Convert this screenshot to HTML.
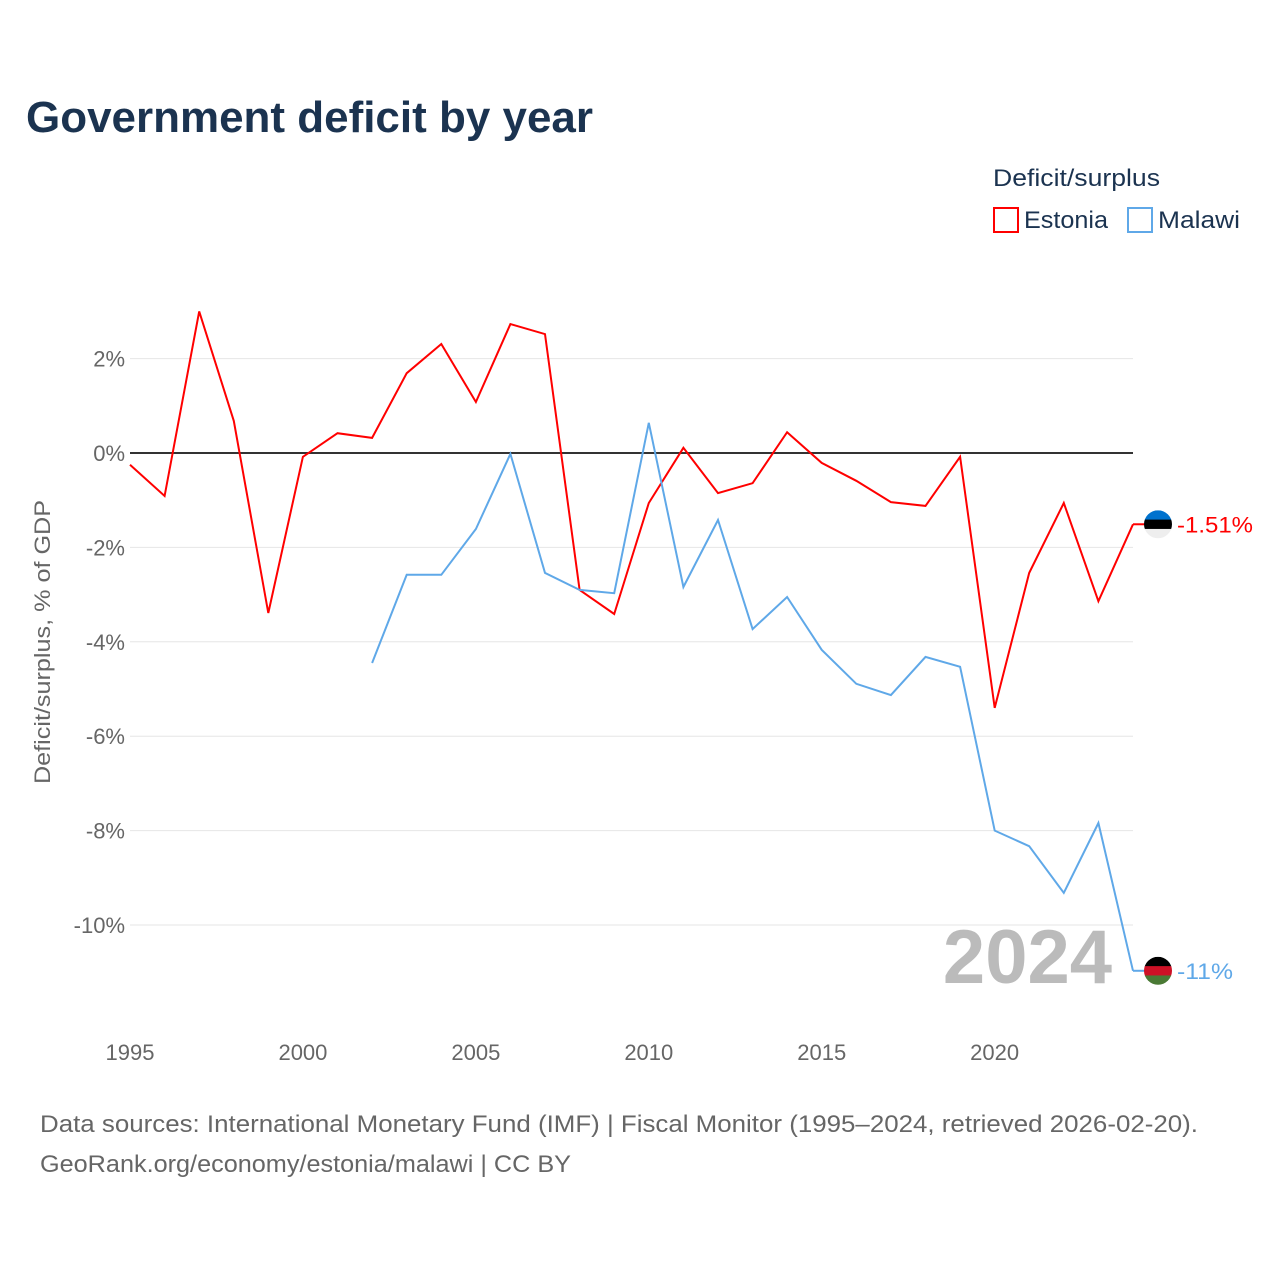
<!DOCTYPE html>
<html><head><meta charset="utf-8"><style>
body{margin:0;background:#fff;font-family:"Liberation Sans",sans-serif;}
#wrap{position:relative;width:1280px;height:1280px;overflow:hidden;}
</style></head><body>
<div id="wrap">
<svg id="chart" width="1280" height="1280">
<text x="26" y="132" font-size="44" font-weight="bold" fill="#1b3350" textLength="567" lengthAdjust="spacingAndGlyphs">Government deficit by year</text>
<text x="993" y="186" font-size="24" fill="#1b3350" textLength="167" lengthAdjust="spacingAndGlyphs">Deficit/surplus</text>
<g><rect x="994" y="208" width="24" height="24" fill="none" stroke="#ff0000" stroke-width="2"/><text x="1024" y="228" font-size="24" fill="#1b3350" textLength="84" lengthAdjust="spacingAndGlyphs">Estonia</text></g>
<g><rect x="1128" y="208" width="24" height="24" fill="none" stroke="#5fa8e8" stroke-width="2"/><text x="1158" y="228" font-size="24" fill="#1b3350" textLength="82" lengthAdjust="spacingAndGlyphs">Malawi</text></g>
<text transform="translate(50,642) rotate(-90)" text-anchor="middle" font-size="22" fill="#666" textLength="284" lengthAdjust="spacingAndGlyphs">Deficit/surplus, % of GDP</text>
<g id="grid"></g><g id="series"></g>
<text x="1112" y="983" text-anchor="end" font-size="76" font-weight="bold" fill="#bbb">2024</text>
<text x="40" y="1132" font-size="24" fill="#666" textLength="1158" lengthAdjust="spacingAndGlyphs">Data sources: International Monetary Fund (IMF) | Fiscal Monitor (1995–2024, retrieved 2026-02-20).</text>
<text x="40" y="1172" font-size="24" fill="#666" textLength="531" lengthAdjust="spacingAndGlyphs">GeoRank.org/economy/estonia/malawi | CC BY</text>
</svg>
</div>
<script>
const years=[1995,1996,1997,1998,1999,2000,2001,2002,2003,2004,2005,2006,2007,2008,2009,2010,2011,2012,2013,2014,2015,2016,2017,2018,2019,2020,2021,2022,2023,2024];
const estonia=[-0.25,-0.91,3.0,0.68,-3.39,-0.08,0.42,0.32,1.69,2.31,1.08,2.73,2.52,-2.9,-3.41,-1.06,0.11,-0.85,-0.64,0.44,-0.21,-0.59,-1.04,-1.12,-0.08,-5.4,-2.54,-1.06,-3.14,-1.51];
const malawi=[null,null,null,null,null,null,null,-4.45,-2.58,-2.58,-1.61,-0.02,-2.54,-2.9,-2.97,0.64,-2.84,-1.42,-3.73,-3.05,-4.17,-4.89,-5.13,-4.32,-4.53,-8.0,-8.33,-9.32,-7.84,-10.97];
const yTicks=[2,0,-2,-4,-6,-8,-10];
const xTicks=[1995,2000,2005,2010,2015,2020];
const NS="http://www.w3.org/2000/svg";
const xS=y=>130+(y-1995)*(1133-130)/29;
const yS=v=>453-v*47.2;
const grid=document.getElementById('grid'),series=document.getElementById('series');
function mk(t,a,p){const e=document.createElementNS(NS,t);for(const k in a)e.setAttribute(k,a[k]);p.appendChild(e);return e;}
yTicks.forEach(v=>{
 const l=mk('line',{x1:130,x2:1133,y1:yS(v),y2:yS(v),stroke:v===0?'#333':'#e6e6e6','stroke-width':v===0?2:1},grid);
 
 
 const t=mk('text',{x:125,y:yS(v)+8,'text-anchor':'end','font-size':22,fill:'#666'},grid);t.textContent=v+'%';
 
 
});
xTicks.forEach(y=>{
 const t=mk('text',{x:xS(y),y:1060,'text-anchor':'middle','font-size':22,fill:'#666'},grid);t.textContent=y;
 
 
});
function line(vals,color,name){
 let d='';vals.forEach((v,i)=>{if(v===null)return;d+=(d?'L':'M')+xS(years[i]).toFixed(1)+','+yS(v).toFixed(1);});
 const p=mk('path',{d:d,fill:'none',stroke:color,'stroke-width':2},series);
 
 
}
line(estonia,'#ff0000','estonia-line');
line(malawi,'#5fa8e8','malawi-line');
function endLabel(vals,color,name,txt,flag,tl){
 const v=vals[vals.length-1],x=xS(years[years.length-1]),y=yS(v);
 mk('line',{x1:x,x2:x+12,y1:y,y2:y,stroke:color,'stroke-width':2},series);
 const g=mk('g',{},series);
 
 
 const cx=x+25,r=14;
 const cp=mk('clipPath',{id:'c'+name},g);mk('circle',{cx:cx,cy:y,r:r},cp);
 flag.forEach((c,i)=>mk('rect',{x:cx-r,y:y-r+i*2*r/3,width:2*r,height:2*r/3+0.5,fill:c,'clip-path':'url(#c'+name+')'},g));
 const t=mk('text',{x:cx+19,y:y+8,'font-size':22,fill:color,textLength:tl,lengthAdjust:'spacingAndGlyphs'},series);t.textContent=txt;
 
 
}
endLabel(estonia,'#ff0000','estonia','-1.51%',['#0072ce','#000','#eee'],76);
endLabel(malawi,'#5fa8e8','malawi','-11%',['#000','#ce1126','#4a7a35'],56);
</script>
</body></html>
